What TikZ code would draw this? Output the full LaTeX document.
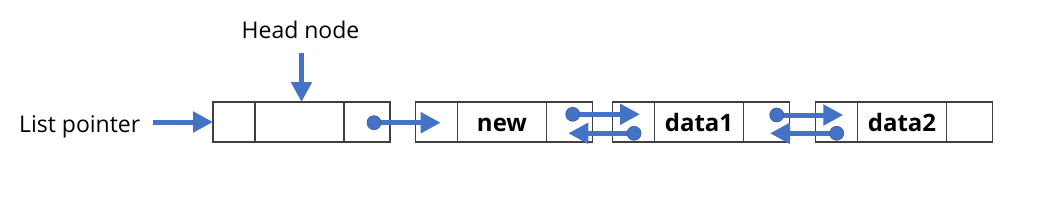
\documentclass[tikz,border=0pt]{standalone}
\usepackage{fontspec}
\setmainfont{Open Sans}
\usetikzlibrary{arrows.meta,positioning,calc}
\definecolor{PtrClr}{rgb}{0.267,0.447,0.769}
\definecolor{BoxClr}{rgb}{0.25,0.25,0.25}

\begin{document}
\begin{tikzpicture}[x=1pt,y=-1pt,
  cell/.style={draw=BoxClr,line width=1.2pt,minimum height=40pt,inner sep=0pt,outer sep=0pt},
  lft/.style={cell,minimum width=42pt},
  mid/.style={cell,minimum width=89pt,text height=19.5pt,text depth=0pt,
    font=\fontsize{24}{28}\selectfont\bfseries},
  rgt/.style={cell,minimum width=46pt},
  ptr/.style={PtrClr,line width=5pt,-{Triangle[length=20pt,width=20pt]}},
  dot/.style={circle,fill=PtrClr,draw=PtrClr!80!black,line width=0.6pt,
    minimum size=14pt,inner sep=0pt},
  lbl/.style={font=\fontsize{23}{27}\selectfont,anchor=base}]

\useasboundingbox (0,0) rectangle (1051,214);

\node[lft,anchor=west] (hd1) at (213,122) {};
\node[mid,right=0pt of hd1] (hd2) {};
\node[rgt,right=0pt of hd2] (hd3) {};

\node[lft,anchor=west] (nw1) at (415.5,122) {};
\node[mid,right=0pt of nw1] (nw2) {new};
\node[rgt,right=0pt of nw2] (nw3) {};

\node[lft,anchor=west] (da1) at (612.5,122) {};
\node[mid,right=0pt of da1] (da2) {data1};
\node[rgt,right=0pt of da2] (da3) {};

\node[lft,anchor=west] (db1) at (815.5,122) {};
\node[mid,right=0pt of db1] (db2) {data2};
\node[rgt,right=0pt of db2] (db3) {};

\node[lbl] (lp) at (79.7,132.7) {List pointer};
\node[lbl] (hn) at (300.5,38.3) {Head node};

\coordinate (lps) at (153,122);
\coordinate (hns) at (301.5,53);
\draw[ptr] (lps) -- (hd1.west);
\draw[ptr] (hns) -- (hns |- hd2.north);

\coordinate (p0) at (374,122.7);   \coordinate (q0) at (440.7,122.7);
\coordinate (p1) at (572.7,114.3); \coordinate (q1) at (640,114.3);
\coordinate (p2) at (634,133.3);   \coordinate (q2) at (568.3,133.3);
\coordinate (p3) at (776.7,115);   \coordinate (q3) at (843.3,115);
\coordinate (p4) at (836.7,133.3); \coordinate (q4) at (770,133.3);

\draw[ptr] (p0) -- (q0);
\draw[ptr] (p1) -- (q1);
\draw[ptr] (p2) -- (q2);
\draw[ptr] (p3) -- (q3);
\draw[ptr] (p4) -- (q4);

\node[dot] (d0) at (p0) {};
\node[dot] (d1) at (p1) {};
\node[dot] (d2) at (p2) {};
\node[dot] (d3) at (p3) {};
\node[dot] (d4) at (p4) {};

\end{tikzpicture}
\end{document}
